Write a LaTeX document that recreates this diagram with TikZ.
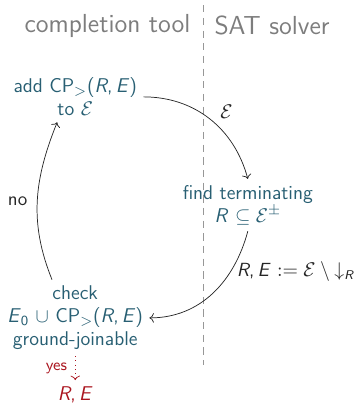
\documentclass[tikz,border=0pt]{standalone}
\usepackage{amsmath,amssymb}
\usepackage{tikz}
\usetikzlibrary{positioning}
\usetikzlibrary{arrows.meta}
\renewcommand{\familydefault}{\sfdefault}
\definecolor{stagecolor}{RGB}{40,95,115}
\definecolor{sidecolor}{RGB}{125,125,125}
\definecolor{yescolor}{RGB}{170,20,30}
\newcommand{\vR}{\textit{R}}
\newcommand{\vE}{\textit{E}}
\newcommand{\RE}{\vR,\kern1.8pt\vE}
\newcommand{\CPgt}{\textup{CP}$_{>}$(\RE)}

\begin{document}
\begin{tikzpicture}[
    stage/.style={align=center, text=stagecolor, font=\fontsize{11}{12.6}\selectfont\sffamily},
    side/.style={font=\sffamily\Large, text=sidecolor},
    arrow/.style={->, thin, black!85},
    edge label/.style={font=\fontsize{10.5}{12.5}\selectfont\sffamily, text=black!85}
]
\useasboundingbox (0,0) rectangle (6.89,-7.88);

% Columns
\coordinate (top) at (3.94,-0.1);
\coordinate (bottom) at (3.94,-7.08);
\draw[sidecolor!80, dash pattern=on 4pt off 3pt] (top) -- (bottom);
\node[side, anchor=east] (tool) at (3.82,-0.5) {completion tool};
\node[side, anchor=west] (sat) at (4.04,-0.5) {SAT solver};

% Cycle
\node[stage] (add) at (1.46,-1.88) {add \CPgt\\to $\mathcal{E}$};
\node[stage] (find) at (4.81,-3.98) {find terminating\\\vR\ $\subseteq \mathcal{E}^{\pm}$};
\node[stage] (check) at (1.46,-6.17) {check\\\vE$_{\textsf{0}}$ $\cup$ \CPgt\\ground-joinable};
\node[text=yescolor, font=\fontsize{11}{13}\selectfont\sffamily] (result) at (1.46,-7.66) {\RE};

% Arrows
\draw[arrow] (add.east) to[out=0, in=105] node[edge label, pos=0.55, above right=-1pt] {$\mathcal{E}$} (find.north);
\draw[arrow] (find.south) to[out=-105, in=0] node[edge label, pos=0.3, right=0pt] {\RE\ $:= \mathcal{E} \setminus {\downarrow_{\textit{\scriptsize R}}}$} (check.east);
\draw[arrow] ([xshift=-0.45cm]check.north) to[out=112, in=-112] node[edge label, left=2pt] {no} ([xshift=-0.35cm]add.south);
\draw[->, dotted, yescolor] (check.south) -- node[left=1pt, font=\sffamily\small] {yes} (result.north);
\end{tikzpicture}
\end{document}
